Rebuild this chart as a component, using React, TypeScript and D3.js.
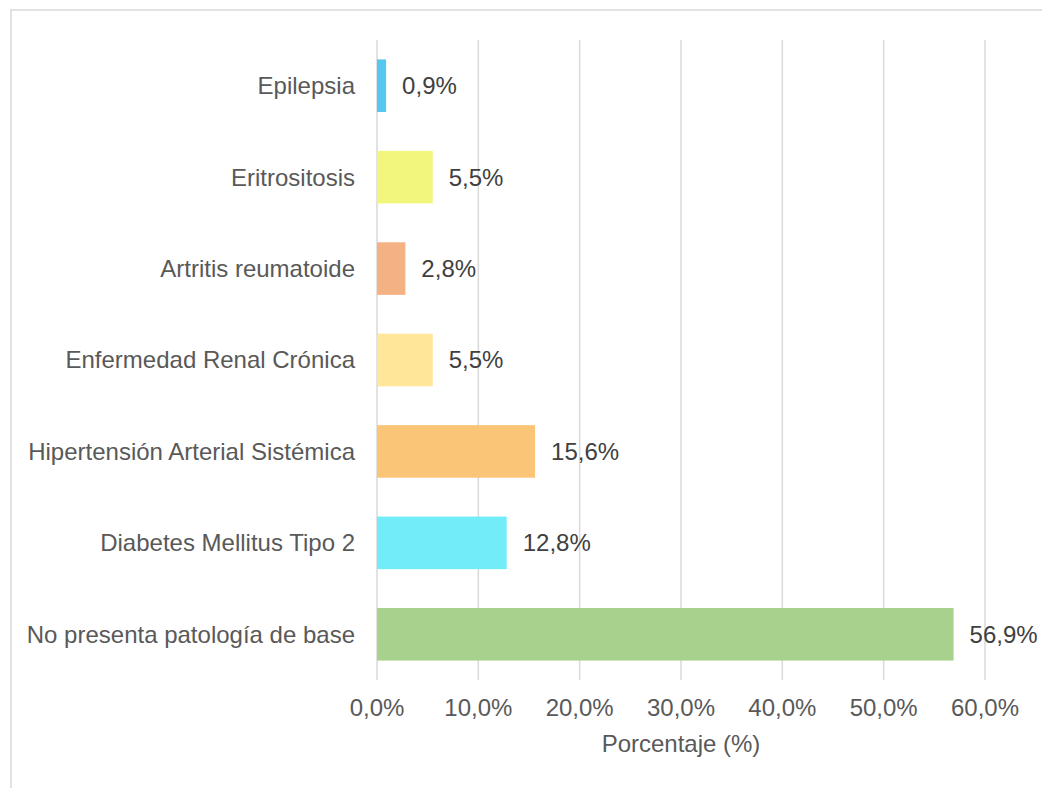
import React from "react";
import * as d3 from "d3";

const categories: string[] = [
  "Epilepsia",
  "Eritrositosis",
  "Artritis reumatoide",
  "Enfermedad Renal Crónica",
  "Hipertensión Arterial Sistémica",
  "Diabetes Mellitus Tipo 2",
  "No presenta patología de base",
];
const values: number[] = [0.9, 5.5, 2.8, 5.5, 15.6, 12.8, 56.9];
const colors: string[] = [
  "#56C8F0",
  "#F3F67C",
  "#F4B183",
  "#FFE699",
  "#FAC577",
  "#73ECFA",
  "#A9D18E",
];
const xTicks: number[] = [0, 10, 20, 30, 40, 50, 60];
const xTitle = "Porcentaje (%)";

const W = 1042;
const H = 788;
const left = 377;
const right = 985;
const top = 40;
const bottom = 680;
const FONT = "Arial, 'Liberation Sans', sans-serif";
const FS = 24;

const fmt = (v: number) => v.toFixed(1).replace(".", ",") + "%";

export default function App() {
  const x = d3.scaleLinear().domain([0, 60]).range([left, right]);
  const y = d3
    .scaleBand<string>()
    .domain(categories)
    .range([top, bottom])
    .paddingInner(0.425)
    .paddingOuter(0.2125);

  return (
    <svg
      width={W}
      height={H}
      style={{ position: "absolute", left: 0, top: 0, background: "#fff" }}
      fontFamily={FONT}
    >
      <rect x={11} y={10} width={W + 20} height={H + 20} fill="#fff" stroke="#D9D9D9" strokeWidth={1.5} />
      {xTicks.map((t) => (
        <line key={t} x1={x(t)} x2={x(t)} y1={top} y2={bottom} stroke="#D9D9D9" strokeWidth={1.5} />
      ))}
      {categories.map((c, i) => (
        <g key={c}>
          <rect
            x={x(0)}
            y={y(c)!}
            width={x(values[i]) - x(0)}
            height={y.bandwidth()}
            fill={colors[i]}
          />
          <text
            x={left - 22}
            y={y(c)! + y.bandwidth() / 2}
            dy="0.35em"
            textAnchor="end"
            fontSize={FS}
            fill="#595959"
          >
            {c}
          </text>
          <text
            x={x(values[i]) + 16}
            y={y(c)! + y.bandwidth() / 2}
            dy="0.35em"
            textAnchor="start"
            fontSize={FS}
            fill="#404040"
          >
            {fmt(values[i])}
          </text>
        </g>
      ))}
      {xTicks.map((t) => (
        <text key={"t" + t} x={x(t)} y={716} textAnchor="middle" fontSize={FS} fill="#595959">
          {fmt(t)}
        </text>
      ))}
      <text x={(left + right) / 2} y={752} textAnchor="middle" fontSize={FS} fill="#595959">
        {xTitle}
      </text>
    </svg>
  );
}
